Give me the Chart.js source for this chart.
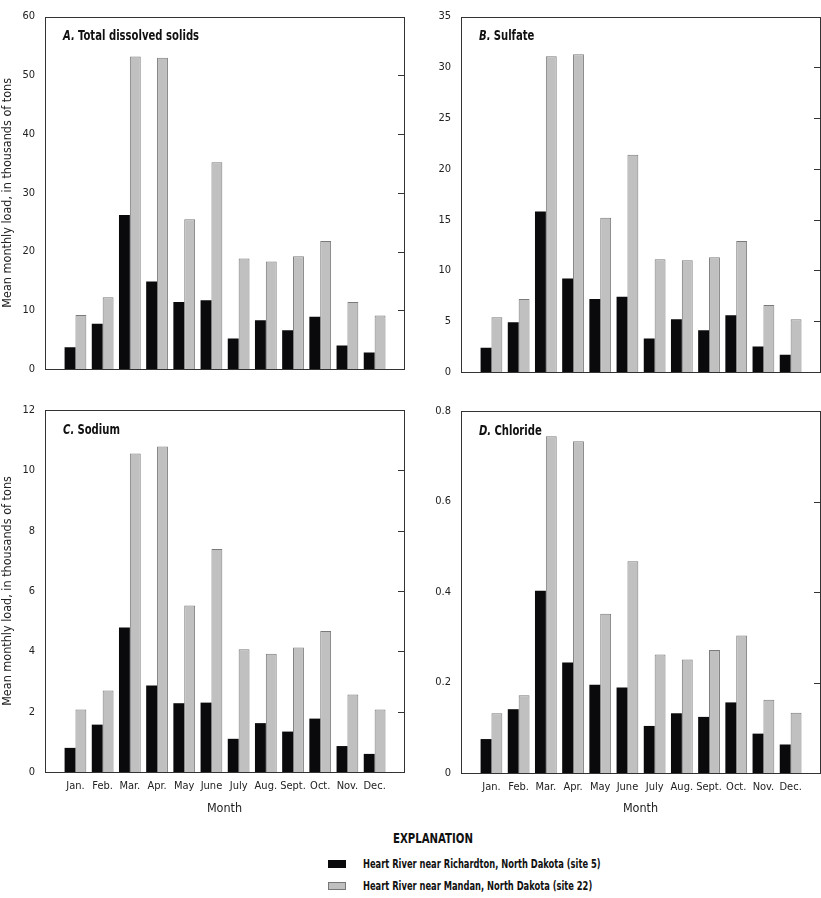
<!DOCTYPE html>
<html>
<head>
<meta charset="utf-8">
<script src="https://cdn.jsdelivr.net/npm/chart.js@4.4.1/dist/chart.umd.min.js"></script>
<style>
    body { margin: 0; background: #fff; width: 821px; height: 898px; position: relative; overflow: hidden; }
    canvas { position: absolute; }
    #legend { position: absolute; left: 0; top: 828px; width: 821px; font-family: 'Liberation Sans Narrow', 'DejaVu Sans Condensed', sans-serif; color: #111; }
    #legend .head { position: absolute; left: 0; width: 866px; text-align: center; font-weight: bold; font-size: 14.5px; top: 2px; transform: scaleX(0.78); transform-origin: 433px 0; }
    #legend .row { position: absolute; left: 328px; font-weight: bold; font-size: 12.5px; white-space: nowrap; }
    #legend .sw { display: inline-block; width: 18px; height: 8px; margin-right: 17px; vertical-align: middle; box-sizing: border-box; }
    #legend .txt { display: inline-block; transform: scaleX(0.74); transform-origin: 0 0; vertical-align: middle; }
</style>
</head>
<body>
<canvas id="chartA" width="410" height="390" style="left:0;top:0"></canvas>
<canvas id="chartB" width="411" height="390" style="left:410px;top:0"></canvas>
<canvas id="chartC" width="410" height="430" style="left:0;top:390px"></canvas>
<canvas id="chartD" width="411" height="430" style="left:410px;top:390px"></canvas>
<div id="legend">
    <div class="head">EXPLANATION</div>
    <div class="row" style="top:27px"><span class="sw" style="background:#0a0a0c"></span><span class="txt">Heart River near Richardton, North Dakota (site 5)</span></div>
    <div class="row" style="top:49px"><span class="sw" style="background:#c0c0c0;border:1px solid #777"></span><span class="txt">Heart River near Mandan, North Dakota (site 22)</span></div>
</div>
<script>
const months = ['Jan.', 'Feb.', 'Mar.', 'Apr.', 'May', 'June', 'July', 'Aug.', 'Sept.', 'Oct.', 'Nov.', 'Dec.'];

// A. Total dissolved solids
const tdsRichardton = [3.7, 7.7, 26.2, 14.9, 11.4, 11.7, 5.2, 8.3, 6.6, 8.9, 4.0, 2.8];
const tdsMandan = [9.2, 12.2, 53.2, 53.0, 25.5, 35.2, 18.8, 18.3, 19.2, 21.8, 11.4, 9.1];
// B. Sulfate
const sulfateRichardton = [2.4, 4.9, 15.8, 9.2, 7.2, 7.4, 3.3, 5.2, 4.1, 5.6, 2.5, 1.7];
const sulfateMandan = [5.4, 7.2, 31.1, 31.3, 15.2, 21.4, 11.1, 11.0, 11.3, 12.9, 6.6, 5.2];
// C. Sodium
const sodiumRichardton = [0.8, 1.57, 4.79, 2.87, 2.28, 2.3, 1.1, 1.62, 1.34, 1.77, 0.86, 0.6];
const sodiumMandan = [2.07, 2.7, 10.56, 10.79, 5.52, 7.39, 4.07, 3.92, 4.13, 4.67, 2.57, 2.07];
// D. Chloride
const chlorideRichardton = [0.075, 0.141, 0.403, 0.244, 0.195, 0.189, 0.104, 0.132, 0.124, 0.156, 0.087, 0.063];
const chlorideMandan = [0.132, 0.172, 0.744, 0.733, 0.352, 0.468, 0.262, 0.251, 0.272, 0.304, 0.162, 0.133];

const yTicksA = [0, 10, 20, 30, 40, 50, 60];
const yTicksB = [0, 5, 10, 15, 20, 25, 30, 35];
const yTicksC = [0, 2, 4, 6, 8, 10, 12];
const yTicksD = [0, 0.2, 0.4, 0.6, 0.8];

const FONT = "'Liberation Sans Narrow', 'DejaVu Sans Condensed', sans-serif";

// frame, inner ticks on right side, panel label
const framePlugin = {
    id: 'frame',
    afterDraw(chart) {
        const ctx = chart.ctx;
        const a = chart.chartArea;
        const y = chart.scales.y;
        ctx.save();
        ctx.strokeStyle = '#333';
        ctx.lineWidth = 1;
        ctx.strokeRect(Math.round(a.left) + 0.5, Math.round(a.top) + 0.5, Math.round(a.right - a.left), Math.round(a.bottom - a.top));
        ctx.beginPath();
        y.ticks.forEach(t => {
            const py = Math.round(y.getPixelForValue(t.value)) + 0.5;
            ctx.moveTo(a.right - 6, py);
            ctx.lineTo(a.right, py);
        });
        ctx.stroke();
        const opts = chart.options.plugins.frame;
        ctx.fillStyle = '#111';
        ctx.textBaseline = 'middle';
        // condensed look for the panel label
        ctx.translate(a.left + 18, a.top + 20);
        ctx.scale(0.8, 1);
        ctx.font = 'italic bold 14px ' + FONT;
        ctx.fillText(opts.letter, 0, 0);
        const w = ctx.measureText(opts.letter).width;
        ctx.font = 'bold 14px ' + FONT;
        ctx.fillText(opts.name, w + 4, 0);
        ctx.restore();
    }
};

function makeChart(id, letter, name, black, gray, yTicks, p) {
    const max = yTicks[yTicks.length - 1];
    return new Chart(document.getElementById(id), {
        type: 'bar',
        data: {
            datasets: [{
                data: black.map((v, i) => ({ x: i, y: v })),
                backgroundColor: '#0a0a0c',
                borderWidth: 0
            }, {
                data: gray.map((v, i) => ({ x: i, y: v })),
                backgroundColor: '#c0c0c0',
                borderColor: '#7a7a7a',
                borderWidth: 1
            }]
        },
        options: {
            responsive: false,
            animation: false,
            layout: { padding: { top: p.top, right: p.right, bottom: p.bottom, left: 0 } },
            datasets: { bar: { categoryPercentage: 0.8, barPercentage: 1.0 } },
            plugins: {
                legend: { display: false },
                tooltip: { enabled: false },
                frame: { letter: letter, name: name }
            },
            scales: {
                x: {
                    type: 'linear',
                    offset: false,
                    min: -1.12,
                    max: 12.08,
                    display: p.showX,
                    grid: { display: false, drawTicks: false },
                    border: { display: false },
                    afterBuildTicks: axis => { axis.ticks = months.map((m, i) => ({ value: i })); },
                    afterFit: s => { if (p.showX) s.height = p.xHeight; },
                    ticks: {
                        padding: 8,
                        autoSkip: false,
                        maxRotation: 0,
                        color: '#222',
                        font: { family: FONT, size: 11 },
                        callback: v => months[v]
                    },
                    title: {
                        display: true,
                        text: 'Month',
                        color: '#222',
                        font: { family: FONT, size: 12.5 },
                        padding: { top: 2, bottom: 4 }
                    }
                },
                y: {
                    min: 0,
                    max: max,
                    grid: { display: false, drawTicks: false },
                    border: { display: false },
                    afterBuildTicks: axis => { axis.ticks = yTicks.map(v => ({ value: v })); },
                    afterFit: s => { s.width = p.yWidth; },
                    ticks: {
                        padding: 10,
                        color: '#222',
                        font: { family: FONT, size: 11 },
                        callback: v => String(v)
                    },
                    title: {
                        display: p.showYTitle,
                        text: 'Mean monthly load, in thousands of tons',
                        color: '#222',
                        font: { family: FONT, size: 12.5 },
                        padding: { top: 0, bottom: 2 }
                    }
                }
            }
        },
        plugins: [framePlugin]
    });
}

makeChart('chartA', 'A.', 'Total dissolved solids', tdsRichardton, tdsMandan, yTicksA,
    { top: 8, right: 6, bottom: 21, yWidth: 45, showX: false, showYTitle: true });
makeChart('chartB', 'B.', 'Sulfate', sulfateRichardton, sulfateMandan, yTicksB,
    { top: 11, right: 1, bottom: 18, yWidth: 51, showX: false, showYTitle: false });
makeChart('chartC', 'C.', 'Sodium', sodiumRichardton, sodiumMandan, yTicksC,
    { top: 20, right: 6, bottom: 0, yWidth: 45, xHeight: 48, showX: true, showYTitle: true });
makeChart('chartD', 'D.', 'Chloride', chlorideRichardton, chlorideMandan, yTicksD,
    { top: 21, right: 1, bottom: 0, yWidth: 51, xHeight: 47, showX: true, showYTitle: false });
</script>
</body>
</html>
